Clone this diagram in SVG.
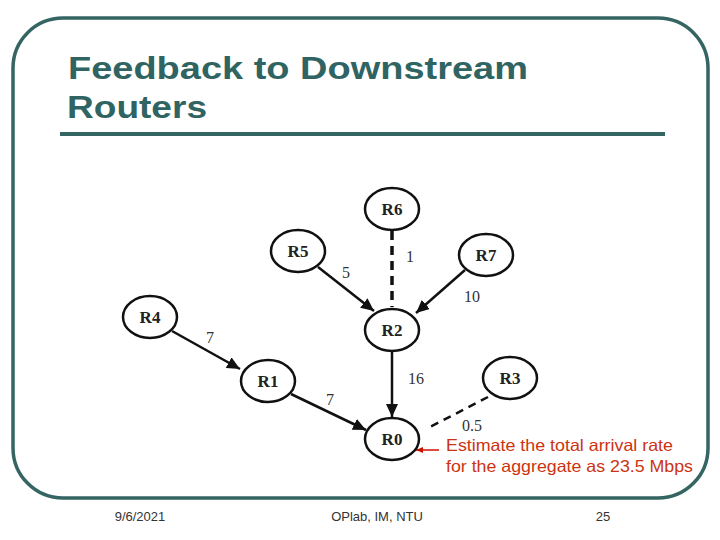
<svg xmlns="http://www.w3.org/2000/svg" width="720" height="540" viewBox="0 0 720 540">
<style>
.frame{fill:none;stroke:#356563;stroke-width:3.5}
.title{font-family:"Liberation Sans",Arial,sans-serif;font-weight:bold;font-size:31px;fill:#2f6462}
.node ellipse{fill:#fff;stroke:#111;stroke-width:2.5}
.node text{font-family:"Liberation Serif","Times New Roman",serif;font-weight:bold;font-size:17px;fill:#222;text-anchor:middle}
.edge{stroke:#111;stroke-width:2.5;fill:none}
.dash1{stroke:#111;stroke-width:3.5;stroke-dasharray:9 6;fill:none}
.dash2{stroke:#111;stroke-width:2.5;stroke-dasharray:8 6;fill:none}
.lbl{font-family:"Liberation Serif","Times New Roman",serif;font-size:16px;fill:#333;text-anchor:middle}
.note{font-family:"Liberation Sans",Arial,sans-serif;font-size:16.5px;fill:#cc3311}
.foot{font-family:"Liberation Sans",Arial,sans-serif;font-size:13px;fill:#333;text-anchor:middle}
</style>
<defs>
<marker id="ah" markerUnits="userSpaceOnUse" markerWidth="14" markerHeight="12" refX="13" refY="6" orient="auto">
<path d="M0,0 L13,6 L0,12 Z" fill="#111"/>
</marker>
<marker id="rh" markerUnits="userSpaceOnUse" markerWidth="8" markerHeight="8" refX="7" refY="4" orient="auto">
<path d="M0,1 L7,4 L0,7 Z" fill="#cc1100"/>
</marker>
</defs>
<rect class="frame" x="13" y="18" width="695" height="480" rx="50" ry="50"/>
<text class="title" x="68" y="79" textLength="460" lengthAdjust="spacingAndGlyphs">Feedback to Downstream</text>
<text class="title" x="67" y="118" textLength="140" lengthAdjust="spacingAndGlyphs">Routers</text>
<rect x="60" y="132" width="605" height="4" fill="#356563"/>
<g id="connectors">
<line class="dash1" x1="392" y1="231" x2="392" y2="307"/>
<line class="edge" x1="318" y1="267" x2="374" y2="311" marker-end="url(#ah)"/>
<line class="edge" x1="465" y1="270" x2="416" y2="313" marker-end="url(#ah)"/>
<line class="edge" x1="172" y1="331" x2="240" y2="369" marker-end="url(#ah)"/>
<line class="edge" x1="291" y1="394" x2="366" y2="430" marker-end="url(#ah)"/>
<line class="edge" x1="392" y1="351" x2="392" y2="417" marker-end="url(#ah)"/>
<line class="dash2" x1="488" y1="397" x2="428" y2="428"/>
<line x1="439" y1="450" x2="416" y2="450" stroke="#cc1100" stroke-width="1.5" marker-end="url(#rh)"/>
<text class="lbl" x="410" y="262">1</text>
<text class="lbl" x="346" y="278">5</text>
<text class="lbl" x="472" y="302">10</text>
<text class="lbl" x="210" y="343">7</text>
<text class="lbl" x="416" y="384">16</text>
<text class="lbl" x="330" y="405">7</text>
<text class="lbl" x="472" y="431">0.5</text>
</g>
<g id="R6" class="node"><ellipse cx="392" cy="209" rx="27" ry="21"/><text x="392" y="215">R6</text></g>
<g id="R5" class="node"><ellipse cx="298" cy="251" rx="27" ry="21"/><text x="298" y="257">R5</text></g>
<g id="R7" class="node"><ellipse cx="486" cy="255" rx="27" ry="21"/><text x="486" y="261">R7</text></g>
<g id="R4" class="node"><ellipse cx="150" cy="317" rx="27" ry="21"/><text x="150" y="323">R4</text></g>
<g id="R2" class="node"><ellipse cx="392" cy="330" rx="27" ry="21"/><text x="392" y="336">R2</text></g>
<g id="R1" class="node"><ellipse cx="268" cy="381" rx="27" ry="21"/><text x="268" y="387">R1</text></g>
<g id="R3" class="node"><ellipse cx="510" cy="378" rx="27" ry="21"/><text x="510" y="384">R3</text></g>
<g id="R0" class="node"><ellipse cx="392" cy="439" rx="27" ry="21"/><text x="392" y="445">R0</text></g>
<text class="note" x="446" y="451" textLength="227" lengthAdjust="spacingAndGlyphs">Estimate the total arrival rate</text>
<text class="note" x="446" y="472" textLength="247" lengthAdjust="spacingAndGlyphs">for the aggregate as 23.5 Mbps</text>
<text class="foot" x="140" y="521">9/6/2021</text>
<text class="foot" x="377" y="521">OPlab, IM, NTU</text>
<text class="foot" x="603" y="521">25</text>
</svg>
